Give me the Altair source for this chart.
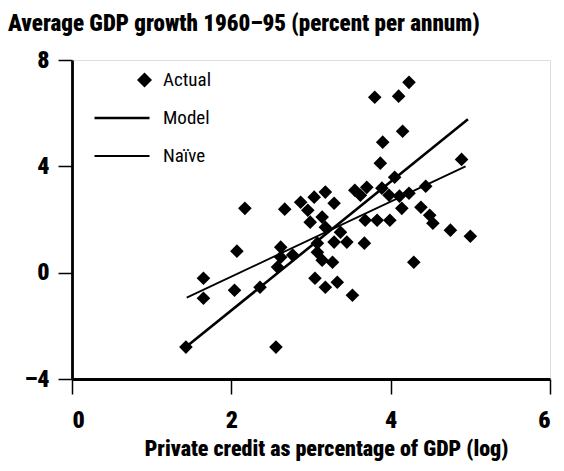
import altair as alt
import pandas as pd

# ---- data ----
actual_x = [1.43, 1.65, 1.65, 2.04, 2.07, 2.17, 2.36, 2.56, 2.67, 2.62, 2.62, 2.58, 2.77,
            2.87, 2.96, 3.04, 3.18, 3.29, 2.99, 3.14, 3.18, 3.08, 3.08, 3.14, 3.27, 3.29,
            3.37, 3.45, 3.05, 3.18, 3.33, 3.52, 3.55, 3.62, 3.70, 3.67, 3.68, 3.83, 3.99,
            3.89, 3.98, 4.11, 4.23, 4.14, 4.38, 4.44, 4.49, 4.53, 4.75, 5.00, 4.89, 4.29,
            4.05, 3.87, 3.90, 4.15, 3.80, 4.10, 4.23]
actual_y = [-2.80, -0.21, -0.96, -0.66, 0.81, 2.42, -0.55, -2.80, 2.39, 0.96, 0.58, 0.21, 0.66,
            2.65, 2.35, 2.84, 3.03, 2.61, 1.90, 2.09, 1.71, 1.11, 0.77, 0.47, 0.39, 1.15,
            1.52, 1.15, -0.21, -0.55, -0.36, -0.85, 3.10, 2.91, 3.21, 1.11, 1.97, 1.97, 1.97,
            3.18, 2.91, 2.88, 2.99, 2.42, 2.46, 3.25, 2.16, 1.86, 1.60, 1.37, 4.26, 0.39,
            3.59, 4.12, 4.91, 5.32, 6.60, 6.64, 7.16]

model_x = [1.43, 4.97]
model_y = [-2.80, 5.77]

naive_x = [1.44, 4.94]
naive_y = [-0.94, 4.00]

series_names = ["Actual", "Model", "Naïve"]
x_ticks = [0, 2, 4, 6]
y_ticks = [-4, 0, 4, 8]

title_text = "Average GDP growth 1960–95 (percent per annum)"
x_title = "Private credit as percentage of GDP (log)"

FONT = "Roboto Condensed, Liberation Sans Narrow, Roboto, sans-serif"

points_df = pd.DataFrame({"x": actual_x, "y": actual_y})
model_df = pd.DataFrame({"x": model_x, "y": model_y})
naive_df = pd.DataFrame({"x": naive_x, "y": naive_y})
legend_df = pd.DataFrame({"series": series_names})

xscale = alt.Scale(domain=[0, 6], nice=False, zero=False)
yscale = alt.Scale(domain=[-4, 8], nice=False, zero=False)

x_axis = alt.Axis(values=x_ticks, format="d", title=x_title, grid=False,
                  domainColor="black", domainWidth=2.8,
                  tickColor="black", tickWidth=1.5, tickSize=15,
                  labelFont=FONT, labelFontSize=24, labelFontWeight=900,
                  labelColor="black", labelPadding=14,
                  titleFont=FONT, titleFontSize=22, titleFontWeight=900,
                  titleColor="black", titleBaseline="alphabetic",
                  titleX=254, titleY=76)
y_axis = alt.Axis(values=y_ticks, format="d", title=None, grid=False,
                  domainColor="black", domainWidth=2.8,
                  tickColor="black", tickWidth=1.5, tickSize=14,
                  labelExpr="datum.value < 0 ? '–' + abs(datum.value) : datum.label",
                  labelFont=FONT, labelFontSize=24, labelFontWeight=900,
                  labelColor="black", labelPadding=9)

points = alt.Chart(points_df).mark_point(
    shape="diamond", filled=True, size=185, color="black", opacity=1
).encode(
    x=alt.X("x:Q", scale=xscale, axis=x_axis),
    y=alt.Y("y:Q", scale=yscale, axis=y_axis),
)

model = alt.Chart(model_df).mark_line(color="black", strokeWidth=2.6).encode(
    x=alt.X("x:Q", scale=xscale), y=alt.Y("y:Q", scale=yscale)
)
naive = alt.Chart(naive_df).mark_line(color="black", strokeWidth=1.8).encode(
    x=alt.X("x:Q", scale=xscale), y=alt.Y("y:Q", scale=yscale)
)

diamond_path = "M1.5,0L2.25,-0.75L3,0L2.25,0.75Z"
model_path = "M-2.75,-0.13H2.75V0.13H-2.75Z"
naive_path = "M-2.75,-0.09H2.75V0.09H-2.75Z"

legend_layer = alt.Chart(legend_df).mark_point(
    filled=True, size=0, color="black", opacity=1
).encode(
    shape=alt.Shape(
        "series:N",
        scale=alt.Scale(domain=series_names, range=[diamond_path, model_path, naive_path]),
        legend=alt.Legend(
            title=None, orient="none", legendX=40, legendY=10,
            symbolSize=400, symbolFillColor="black", symbolStrokeWidth=0,
            labelFont=FONT, labelFontSize=19, labelColor="black",
            labelOffset=31, rowPadding=18,
        ),
    )
)

chart = alt.layer(points, model, naive, legend_layer).properties(
    width=478, height=319,
    autosize=alt.AutoSizeParams(type="none"),
    padding={"left": 64, "top": 52, "right": 6, "bottom": 84},
    title=alt.TitleParams(text=title_text, anchor="start", frame="group", dx=-64,
                          offset=12, font=FONT, fontSize=23, fontWeight=900,
                          color="black"),
).configure_view(stroke=None).configure(background="white")

chart.save("out.html", embed_options={"renderer": "svg", "actions": False})
